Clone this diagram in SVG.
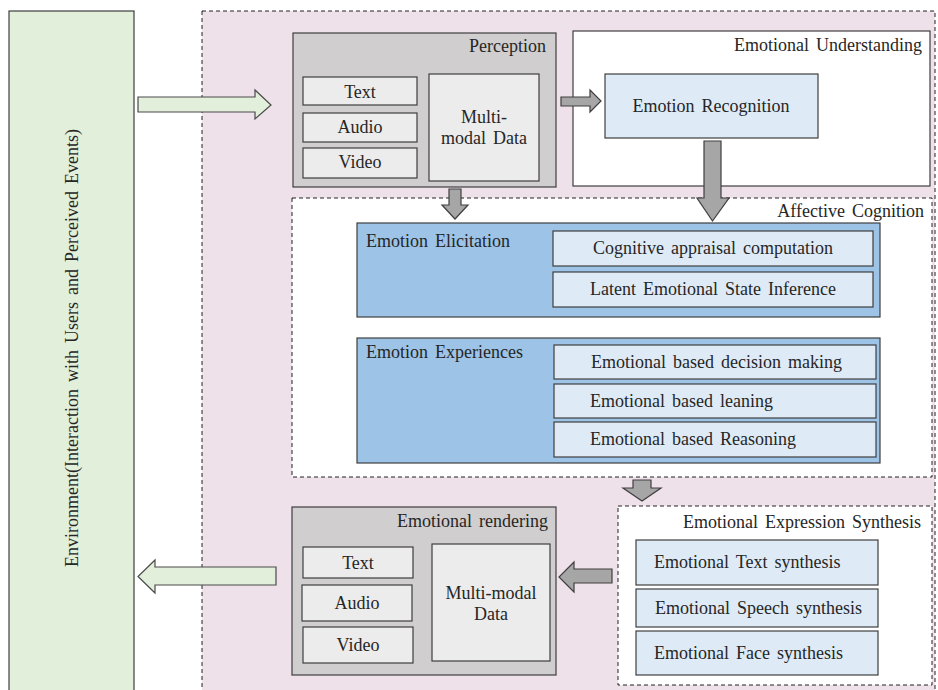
<svg xmlns="http://www.w3.org/2000/svg" width="938" height="690" viewBox="0 0 938 690" font-family="'Liberation Serif', 'Times New Roman', 'DejaVu Serif', serif">
<style>
text{font-family:'Liberation Serif','Times New Roman','DejaVu Serif',serif;font-size:18px;fill:#262626;word-spacing:2.5px}
.b{stroke:#3f3f3f;stroke-width:1.2}
.dash{stroke:#222;stroke-width:1;stroke-dasharray:4 3}
.gray{fill:#d0cece}
.lg{fill:#ececec}
.lb{fill:#deebf7}
.mb{fill:#9dc3e6}
.ga{fill:#a6a6a6;stroke:#3f3f3f;stroke-width:1.2}
.gr{fill:#e2efda;stroke:#4a4a4a;stroke-width:1.2}
.m{text-anchor:middle}
.e{text-anchor:end}
</style>
<rect width="938" height="690" fill="#fff"/>
<g id="environment">
<rect x="9" y="11" width="125" height="690" fill="#e2efda" class="b"/>
<text transform="translate(78,348) rotate(-90)" class="m">Environment(Interaction with Users and Perceived Events)</text>
</g>
<g id="agent">
<rect x="202" y="11" width="733" height="690" fill="#efe1ea" class="dash"/>
</g>
<g id="perception">
<rect x="293" y="33" width="263" height="154" class="gray b"/>
<text x="546" y="52" class="e">Perception</text>
<rect x="303" y="77" width="114" height="28" class="lg b"/>
<text x="360" y="98" class="m">Text</text>
<rect x="303" y="113" width="114" height="29" class="lg b"/>
<text x="360" y="133" class="m">Audio</text>
<rect x="303" y="148" width="114" height="30" class="lg b"/>
<text x="360" y="168" class="m">Video</text>
<rect x="429" y="74" width="110" height="107" class="lg b"/>
<text x="484" y="123" class="m">Multi-</text>
<text x="484" y="144" class="m">modal Data</text>
</g>
<g id="emotional-understanding">
<rect x="573" y="31" width="357" height="155" fill="#fff" class="b"/>
<text x="922" y="51" class="e">Emotional Understanding</text>
</g>
<g id="emotion-recognition">
<rect x="605" y="74" width="213" height="64" class="lb b"/>
<text x="711" y="112" class="m">Emotion Recognition</text>
</g>
<g id="affective-cognition">
<rect x="292" y="198" width="640" height="279" fill="#fff" class="dash"/>
<text x="924" y="217" class="e">Affective Cognition</text>
</g>
<g id="emotion-elicitation">
<rect x="357" y="223" width="523" height="94" class="mb b"/>
<text x="366" y="247">Emotion Elicitation</text>
<rect x="553" y="231" width="320" height="35" class="lb b"/>
<text x="713" y="254" class="m">Cognitive appraisal computation</text>
<rect x="553" y="272" width="320" height="35" class="lb b"/>
<text x="713" y="295" class="m">Latent Emotional State Inference</text>
</g>
<g id="emotion-experiences">
<rect x="357" y="338" width="523" height="125" class="mb b"/>
<text x="366" y="358">Emotion Experiences</text>
<rect x="554" y="345" width="322" height="34" class="lb b"/>
<text x="591" y="368">Emotional based decision making</text>
<rect x="554" y="384" width="322" height="34" class="lb b"/>
<text x="590" y="407">Emotional based leaning</text>
<rect x="554" y="422" width="322" height="35" class="lb b"/>
<text x="590" y="445">Emotional based Reasoning</text>
</g>
<g id="emotional-expression-synthesis">
<rect x="618" y="506" width="314" height="179" fill="#fff" class="dash"/>
<text x="921" y="528" class="e">Emotional Expression Synthesis</text>
<rect x="636" y="540" width="242" height="45" class="lb b"/>
<text x="654" y="568">Emotional Text synthesis</text>
<rect x="636" y="589" width="242" height="38" class="lb b"/>
<text x="655" y="614">Emotional Speech synthesis</text>
<rect x="636" y="631" width="242" height="44" class="lb b"/>
<text x="654" y="659">Emotional Face synthesis</text>
</g>
<g id="emotional-rendering">
<rect x="292" y="507" width="264" height="168" class="gray b"/>
<text x="548" y="527" class="e">Emotional rendering</text>
<rect x="303" y="547" width="110" height="31" class="lg b"/>
<text x="358" y="569" class="m">Text</text>
<rect x="302" y="585" width="110" height="36" class="lg b"/>
<text x="357" y="609" class="m">Audio</text>
<rect x="303" y="627" width="110" height="36" class="lg b"/>
<text x="358" y="651" class="m">Video</text>
<rect x="432" y="544" width="118" height="117" class="lg b"/>
<text x="491" y="599" class="m">Multi-modal</text>
<text x="491" y="620" class="m">Data</text>
</g>
<g id="connectors">
<polygon class="gr" points="138,97 255,97 255,90 271,105 255,119 255,112 138,112"/>
<polygon class="ga" points="561,97 590,97 590,90 601,101 590,112 590,106 561,106"/>
<polygon class="ga" points="449,189 461,189 461,205 468,205 455,219 442,205 449,205"/>
<polygon class="ga" points="704,141 721,141 721,198 729,198 712.5,221 697,198 704,198"/>
<polygon class="ga" points="633,480 651,480 651,488 661,488 642,501 623,488 633,488"/>
<polygon class="ga" points="612,569 612,583 574,583 574,592 559,577 574,562 574,569"/>
<polygon class="gr" points="276,567 276,585 155,585 155,593 138,576.5 155,560 155,567"/>
</g>
</svg>
